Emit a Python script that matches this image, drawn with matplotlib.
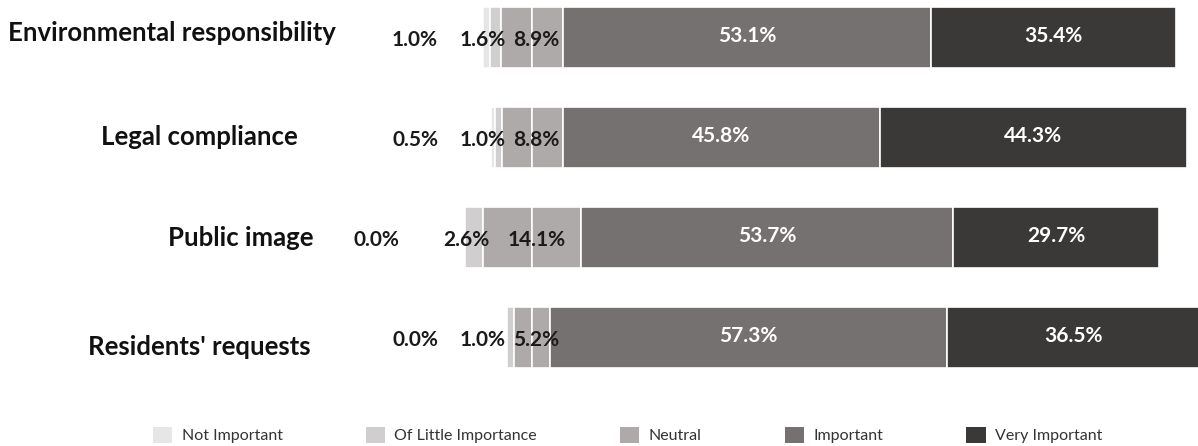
import matplotlib.pyplot as plt
from matplotlib.patches import Patch
import numpy as np

categories = ["Environmental responsibility", "Legal compliance", "Public image", "Residents' requests"]
levels = ["Not Important", "Of Little Importance", "Neutral", "Important", "Very Important"]
not_important = [1.0, 0.5, 0.0, 0.0]
little = [1.6, 1.0, 2.6, 1.0]
neutral = [8.9, 8.8, 14.1, 5.2]
important = [53.1, 45.8, 53.7, 57.3]
very_important = [35.4, 44.3, 29.7, 36.5]

colors = ["#e7e6e6", "#d0cece", "#aeaaaa", "#757171", "#3b3838"]

plt.rcParams['font.family'] = ['Lato', 'DejaVu Sans']

fig = plt.figure(figsize=(11.98, 4.46), dpi=100)
ax = fig.add_axes([0, 0, 1, 1])
ax.set_xlim(-76.8, 96.1)
ax.set_ylim(4.085, -0.375)
ax.axis('off')

rows = np.arange(len(categories))
half = np.array(neutral) / 2
# bars are centred on the middle of the neutral block, so split it in two
left = -(np.array(not_important) + np.array(little) + half)
pieces = [not_important, little, half, half, important, very_important]
piece_colors = [colors[0], colors[1], colors[2], colors[2], colors[3], colors[4]]

start = left.copy()
for vals, c in zip(pieces, piece_colors):
    vals = np.asarray(vals, dtype=float)
    ax.barh(rows, vals, left=start, height=0.61, color=c, edgecolor='white', linewidth=1.2)
    start = start + vals

# labels for the two small categories sit to the left of the bar
small_x = [(-17.0, -7.1), (-16.9, -7.1), (-22.5, -9.5), (-16.8, -7.2)]
dark = dict(ha='center', va='center', fontsize=15, fontweight='bold', color='#1a1a1a')
light = dict(ha='center', va='center', fontsize=15, fontweight='bold', color='white')
for i in rows:
    ax.text(small_x[i][0], i + 0.03, f"{not_important[i]:.1f}%", **dark)
    ax.text(small_x[i][1], i + 0.03, f"{little[i]:.1f}%", **dark)
    ax.text(0.6, i + 0.03, f"{neutral[i]:.1f}%", **dark)
    ax.text(half[i] + important[i] / 2, i - 0.02, f"{important[i]:.1f}%", **light)
    ax.text(half[i] + important[i] + very_important[i] / 2, i - 0.02,
            f"{very_important[i]:.1f}%", **light)

# category names, placed by hand in figure pixels
name_pos = [(8, 33), (101, 137), (168, 238), (88, 347)]
for name, (px, py) in zip(categories, name_pos):
    fig.text(px / 1198, 1 - py / 446, name, ha='left', va='center',
             fontsize=18.5, fontweight='bold', color='#111111')

handles = [Patch(facecolor=c, edgecolor='none') for c in colors]
fig.legend(handles, levels, loc='center', bbox_to_anchor=(0.524, 11 / 446), ncol=5,
           frameon=False, fontsize=11.5, handlelength=1.2, handleheight=1.2,
           handletextpad=0.6, columnspacing=5.2, labelcolor='#333333')

fig.savefig('out.png', dpi=100)
